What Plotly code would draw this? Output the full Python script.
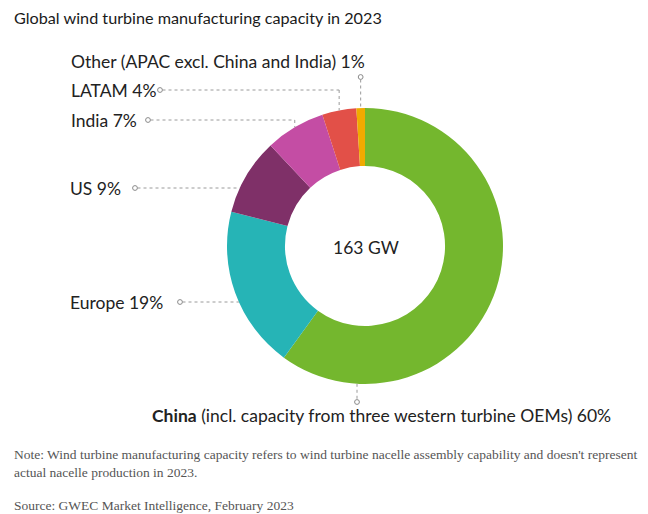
import math
import plotly.graph_objects as go

# Manufacturing capacity share by region, 2023 (%)
regions = ["China", "Europe", "US", "India", "LATAM", "Other"]
shares = [60, 19, 9, 7, 4, 1]
colors = ["#74B72E", "#26B4B6", "#7F3068", "#C44DA4", "#E25048", "#F0AA00"]
label_texts = [
    "<b>China</b> (incl. capacity from three western turbine OEMs) 60%",
    "Europe 19%",
    "US 9%",
    "India 7%",
    "LATAM 4%",
    "Other (APAC excl. China and India) 1%",
]
total_text = "163 GW"

W, H = 648, 514
CX, CY, R = 365, 246, 138          # donut centre and outer radius (px)
HOLE = 0.58

SANS = "Lato, 'Noto Sans', sans-serif"
SERIF = "'Liberation Serif', 'DejaVu Serif', serif"
LINE_COL = "#9a9a9a"
LABEL_SIZE = 17.5


def px(x):
    return x / W


def py(y):
    return 1 - y / H


fig = go.Figure(go.Pie(
    labels=regions,
    values=shares,
    hole=HOLE,
    sort=False,
    direction="clockwise",
    rotation=0,
    marker=dict(colors=colors, line=dict(width=0)),
    textinfo="none",
    hoverinfo="label+percent",
    showlegend=False,
    domain=dict(x=[px(CX - R), px(CX + R)], y=[py(CY + R), py(CY - R)]),
))

# slice mid-angles (degrees clockwise from 12 o'clock)
total = sum(shares)
mids = {}
acc = 0
for name, v in zip(regions, shares):
    mids[name] = (acc + v / 2) / total * 360
    acc += v


def ring_point(deg):
    a = math.radians(deg)
    return CX + R * math.sin(a), CY - R * math.cos(a)


def ring_x_at(y, side=-1):
    return CX + side * math.sqrt(max(R * R - (y - CY) ** 2, 0))


shapes = []
annotations = []


def seg(x0, y0, x1, y1):
    shapes.append(dict(type="line", xref="paper", yref="paper",
                       x0=px(x0), y0=py(y0), x1=px(x1), y1=py(y1),
                       line=dict(color=LINE_COL, width=1, dash="dot")))


def dot(x, y, r=2.4):
    shapes.append(dict(type="circle", xref="paper", yref="paper",
                       x0=px(x - r), x1=px(x + r), y0=py(y + r), y1=py(y - r),
                       fillcolor="white", line=dict(color="#8a8a8a", width=1)))


def label(text, x, y, size=LABEL_SIZE, anchor="left"):
    annotations.append(dict(text=text, x=px(x), y=py(y), xref="paper", yref="paper",
                            xanchor=anchor, yanchor="middle", showarrow=False,
                            font=dict(family=SANS, size=size, color="#222222")))


# Other: vertical leader from the slice up to the label line
ox, oy = ring_point(mids["Other"])
label(label_texts[5], 69, 61)
dot(ox, 77)
seg(ox, 79.5, ox, oy)

# LATAM and India: elbow leaders
for name, txt, ly, cx_dot in [("LATAM", label_texts[4], 90, 160),
                              ("India", label_texts[3], 120, 148)]:
    lx, lyy = ring_point(mids[name])
    label(txt, 69, ly)
    dot(cx_dot, ly)
    seg(cx_dot + 2.5, ly, lx, ly)
    seg(lx, ly, lx, lyy)

# US and Europe: straight horizontal leaders to the ring edge
for txt, ly, cx_dot in [(label_texts[2], 188, 135), (label_texts[1], 302, 180)]:
    label(txt, 68, ly)
    dot(cx_dot, ly)
    seg(cx_dot + 2.5, ly, ring_x_at(ly), ly)

# China: vertical leader below the ring
chx = 357
seg(chx, CY + math.sqrt(R * R - (chx - CX) ** 2), chx, 399.5)
dot(chx, 402)
label(label_texts[0], 150, 415)

# centre total
annotations.append(dict(text=total_text, x=px(CX + 1), y=py(CY + 1), xref="paper", yref="paper",
                        showarrow=False, xanchor="center", yanchor="middle",
                        font=dict(family=SANS, size=17.5, color="#222222")))

# title and footnotes
annotations.append(dict(text="Global wind turbine manufacturing capacity in 2023",
                        x=px(12), y=py(18), xref="paper", yref="paper", xanchor="left",
                        yanchor="middle", showarrow=False,
                        font=dict(family=SANS, size=16.2, color="#1a1a1a")))
annotations.append(dict(text="Note: Wind turbine manufacturing capacity refers to wind turbine nacelle "
                             "assembly capability and doesn't represent<br>actual nacelle production in 2023.",
                        x=px(12), y=py(463), xref="paper", yref="paper", xanchor="left",
                        yanchor="middle", align="left", showarrow=False,
                        font=dict(family=SERIF, size=13.5, color="#555555")))
annotations.append(dict(text="Source: GWEC Market Intelligence, February 2023",
                        x=px(12), y=py(505), xref="paper", yref="paper", xanchor="left",
                        yanchor="middle", showarrow=False,
                        font=dict(family=SERIF, size=13.5, color="#555555")))

fig.update_layout(
    width=W, height=H,
    margin=dict(l=0, r=0, t=0, b=0),
    paper_bgcolor="white", plot_bgcolor="white",
    shapes=shapes, annotations=annotations,
)

fig.write_html("out.html")
